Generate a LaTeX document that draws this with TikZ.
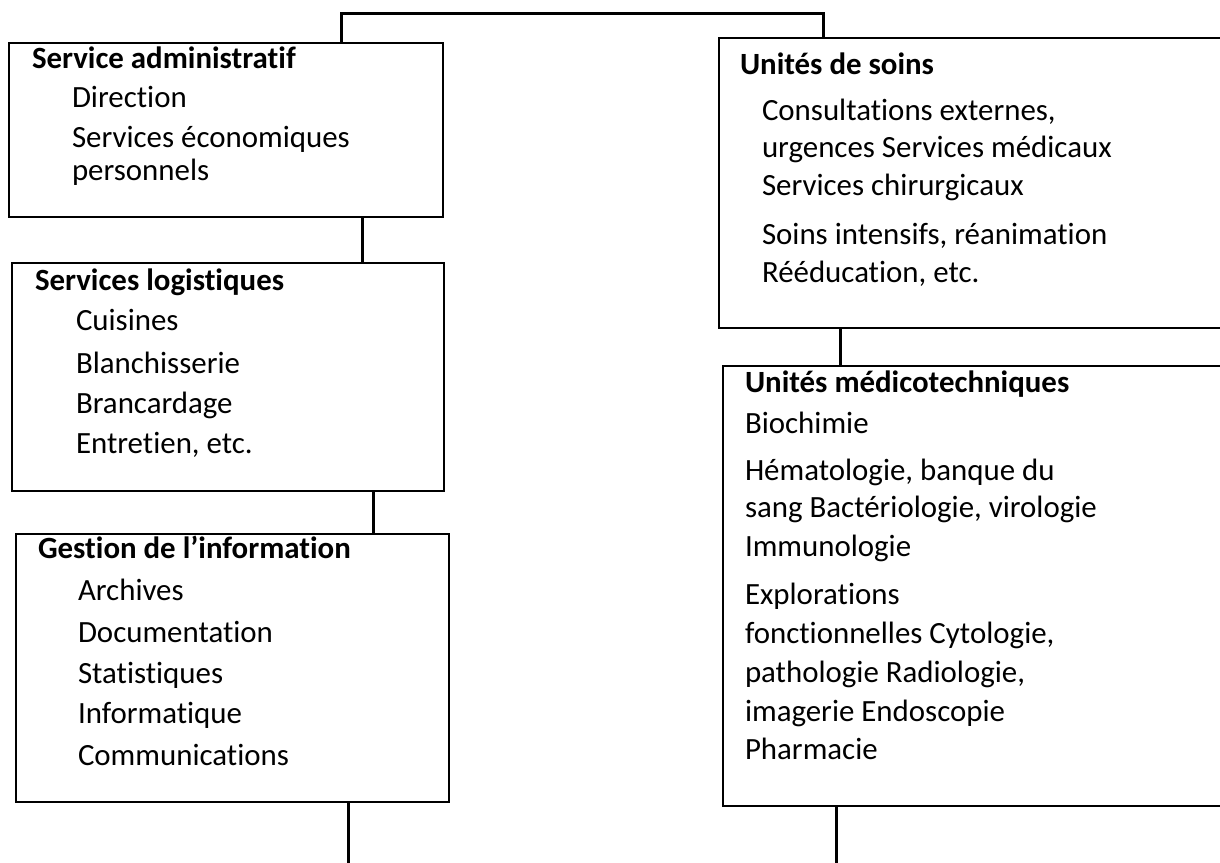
\documentclass[tikz,border=0pt]{standalone}
\usepackage{fontspec}
\setmainfont{Carlito}[Ligatures=NoCommon]
\usetikzlibrary{positioning}

\begin{document}
\begin{tikzpicture}[
    x=1bp, y=-1bp,
    every node/.style={font=\fontsize{31}{38}\selectfont, inner sep=0pt, outer sep=0pt},
    box/.style={rectangle, draw, line width=1.8bp, anchor=north west},
    head/.style={anchor=base west, font=\fontsize{31}{38}\selectfont\bfseries},
    item/.style={anchor=base west},
    link/.style={line width=3bp}
]
\useasboundingbox (0,0) rectangle (1220,863);
\clip (0,0) rectangle (1220,863);
% Colonne de gauche
\node[box, minimum width=434bp, minimum height=174bp] (admin) at (9,43) {};
\node[box, minimum width=432bp, minimum height=228bp] (logis) at (12,263) {};
\node[box, minimum width=433bp, minimum height=268bp] (info) at (16,534) {};
% Colonne de droite
\node[box, minimum width=506bp, minimum height=290bp] (soins) at (719,38) {};
\node[box, minimum width=502bp, minimum height=440bp] (medtech) at (723,366) {};
% Textes
\node[head] (admin-t) at (32,68) {Service administratif};
\foreach \yy/\txt [count=\i] in {107/Direction, 147/Services économiques, 180/personnels}
  \node[item] (admin-\i) at (72,\yy) {\txt};
\node[head] (logis-t) at (35,290) {Services logistiques};
\foreach \yy/\txt [count=\i] in {330/Cuisines, 373/Blanchisserie, 413/Brancardage, 453/{Entretien, etc.}}
  \node[item] (logis-\i) at (76,\yy) {\txt};
\node[head] (info-t) at (38,558) {Gestion de l’information};
\foreach \yy/\txt [count=\i] in {600/Archives, 642/Documentation, 683/Statistiques, 723/Informatique, 765/Communications}
  \node[item] (info-\i) at (78,\yy) {\txt};
\node[head] (soins-t) at (740,74) {Unités de soins};
\foreach \yy/\txt [count=\i] in {120/{Consultations externes,}, 157/urgences Services médicaux, 195/Services chirurgicaux, 244/{Soins intensifs, réanimation}, 282/{Rééducation, etc.}}
  \node[item] (soins-\i) at (762,\yy) {\txt};
\node[head] (medtech-t) at (745,392) {Unités médicotechniques};
\foreach \yy/\txt [count=\i] in {433/Biochimie, 480/{Hématologie, banque du}, 517/{sang Bactériologie, virologie}, 556/Immunologie, 604/Explorations, 643/{fonctionnelles Cytologie,}, 682/{pathologie Radiologie,}, 721/imagerie Endoscopie, 759/Pharmacie}
  \node[item] (medtech-\i) at (745,\yy) {\txt};
% Liaisons
\coordinate (top) at (0,13);
\coordinate (infoend) at (348,863);
\coordinate (medend) at (836,863);
\draw[link] (admin.north -| 341,0) |- (top -| 823,0) -- (soins.north -| 823,0);
\draw[link] (admin.south -| 362,0) -- (logis.north -| 362,0);
\draw[link] (logis.south -| 373,0) -- (info.north -| 373,0);
\draw[link] (info.south -| infoend) -- (infoend);
\draw[link] (soins.south -| 840,0) -- (medtech.north -| 840,0);
\draw[link] (medtech.south -| medend) -- (medend);
\end{tikzpicture}
\end{document}
